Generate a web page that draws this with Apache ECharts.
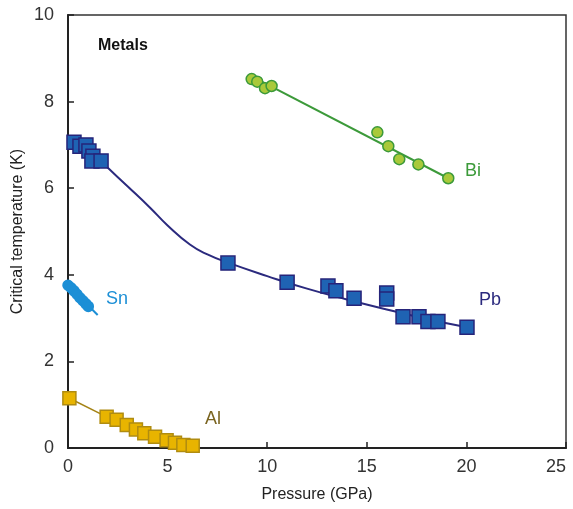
<!DOCTYPE html>
<html>
<head>
<meta charset="utf-8">
<script src="https://cdn.jsdelivr.net/npm/echarts@6/dist/echarts.min.js"></script>
<style>
  html, body { margin: 0; padding: 0; background: #fff; }
  #chart { width: 573px; height: 509px; }
</style>
</head>
<body>
<div id="chart"></div>
<script>
// Pressure (GPa) vs critical temperature (K)
var pbPoints = [[0.3, 7.06], [0.6, 6.97], [0.9, 7.0], [1.05, 6.86], [1.25, 6.74], [1.2, 6.63], [1.66, 6.63],
  [8.03, 4.27], [11.0, 3.83], [13.05, 3.74], [13.45, 3.63], [14.36, 3.46], [16.0, 3.58], [16.0, 3.44],
  [16.82, 3.03], [17.62, 3.03], [18.07, 2.92], [18.57, 2.92], [20.03, 2.79]];
var pbFit = [[0.3, 7.06], [1.66, 6.62], [2.0, 6.47], [3.0, 6.04], [4.12, 5.55], [5.0, 5.14], [6.12, 4.7],
  [7.0, 4.47], [8.03, 4.28], [10.0, 3.97], [12.0, 3.68], [14.0, 3.43], [16.0, 3.2], [18.0, 2.98], [20.03, 2.79]];

var biPoints = [[9.22, 8.52], [9.5, 8.46], [9.89, 8.31], [10.22, 8.36], [15.53, 7.29], [16.08, 6.97],
  [16.63, 6.67], [17.59, 6.55], [19.09, 6.23]];
var biFit = [[9.22, 8.58], [19.09, 6.23]];

var snPoints = [[0.0, 3.76], [0.15, 3.70], [0.3, 3.63], [0.45, 3.55], [0.6, 3.47], [0.75, 3.40], [0.9, 3.33], [1.02, 3.27]];
var snFit = [[0.0, 3.76], [1.49, 3.07]];

var alPoints = [[0.07, 1.15], [1.94, 0.72], [2.44, 0.65], [2.95, 0.53], [3.41, 0.43], [3.83, 0.34],
  [4.37, 0.26], [4.95, 0.18], [5.37, 0.12], [5.79, 0.07], [6.26, 0.05]];

var xTicks = [0, 5, 10, 15, 20, 25];
var yTicks = [0, 2, 4, 6, 8, 10];

var myChart = echarts.init(document.getElementById('chart'));

var font = 'Liberation Sans, Arial, sans-serif';

function fitLine(data, color, width, smooth) {
  return {
    type: 'line', data: data, symbol: 'none', smooth: smooth || false,
    lineStyle: { color: color, width: width }, z: 2, silent: true
  };
}

function marks(data, symbol, size, fill, border) {
  return {
    type: 'scatter', data: data, symbol: symbol, symbolSize: size,
    itemStyle: { color: fill, borderColor: border, borderWidth: 1.5, opacity: 1 }, z: 3
  };
}

var option = {
  animation: false,
  grid: {
    left: 68, right: 7, top: 15, bottom: 61, outerBoundsMode: 'none',
    show: true, borderColor: '#333', borderWidth: 1.5, backgroundColor: 'transparent'
  },
  xAxis: {
    type: 'value', min: 0, max: 25, interval: 5,
    name: 'Pressure (GPa)', nameLocation: 'middle', nameGap: 39, nameMoveOverlap: false,
    nameTextStyle: { fontFamily: font, fontSize: 16, color: '#222' },
    axisLine: { lineStyle: { color: '#222', width: 2 } },
    axisTick: { inside: true, length: 6, lineStyle: { color: '#222', width: 1.5 } },
    axisLabel: { fontFamily: font, fontSize: 18, color: '#333', margin: 10, alignMaxLabel: 'right',
      formatter: function (v) { return xTicks.indexOf(v) >= 0 ? String(v) : ''; } },
    splitLine: { show: false }
  },
  yAxis: {
    type: 'value', min: 0, max: 10, interval: 2,
    name: 'Critical temperature (K)', nameLocation: 'middle', nameGap: 42, nameMoveOverlap: false,
    nameTextStyle: { fontFamily: font, fontSize: 16, color: '#222' },
    axisLine: { lineStyle: { color: '#222', width: 2 } },
    axisTick: { inside: true, length: 6, lineStyle: { color: '#222', width: 1.5 } },
    axisLabel: { fontFamily: font, fontSize: 18, color: '#333', margin: 14,
      formatter: function (v) { return yTicks.indexOf(v) >= 0 ? String(v) : ''; } },
    splitLine: { show: false }
  },
  series: [
    fitLine(pbFit, '#2b2a7e', 2, 0.5),
    marks(pbPoints, 'rect', 14, '#1f63b3', '#26247a'),
    fitLine(biFit, '#3c9a3a', 2),
    marks(biPoints, 'circle', 11, '#a9c93a', '#3c9a3a'),
    fitLine(snFit, '#1c8fd6', 2),
    marks(snPoints, 'circle', 10, '#1c8fd6', '#1c8fd6'),
    fitLine(alPoints, '#a58417', 1.5),
    marks(alPoints, 'rect', 13, '#e8b400', '#b08c10')
  ],
  graphic: [
    { type: 'text', left: 98, top: 38, style: { text: 'Metals', font: 'bold 16px ' + font, fill: '#111' } },
    { type: 'text', left: 465, top: 162, style: { text: 'Bi', font: '18px ' + font, fill: '#3c9a3a' } },
    { type: 'text', left: 479, top: 291, style: { text: 'Pb', font: '18px ' + font, fill: '#2b2a7e' } },
    { type: 'text', left: 106, top: 290, style: { text: 'Sn', font: '18px ' + font, fill: '#1c8fd6' } },
    { type: 'text', left: 205, top: 410, style: { text: 'Al', font: '18px ' + font, fill: '#7a6420' } }
  ]
};

myChart.setOption(option);
</script>
</body>
</html>
